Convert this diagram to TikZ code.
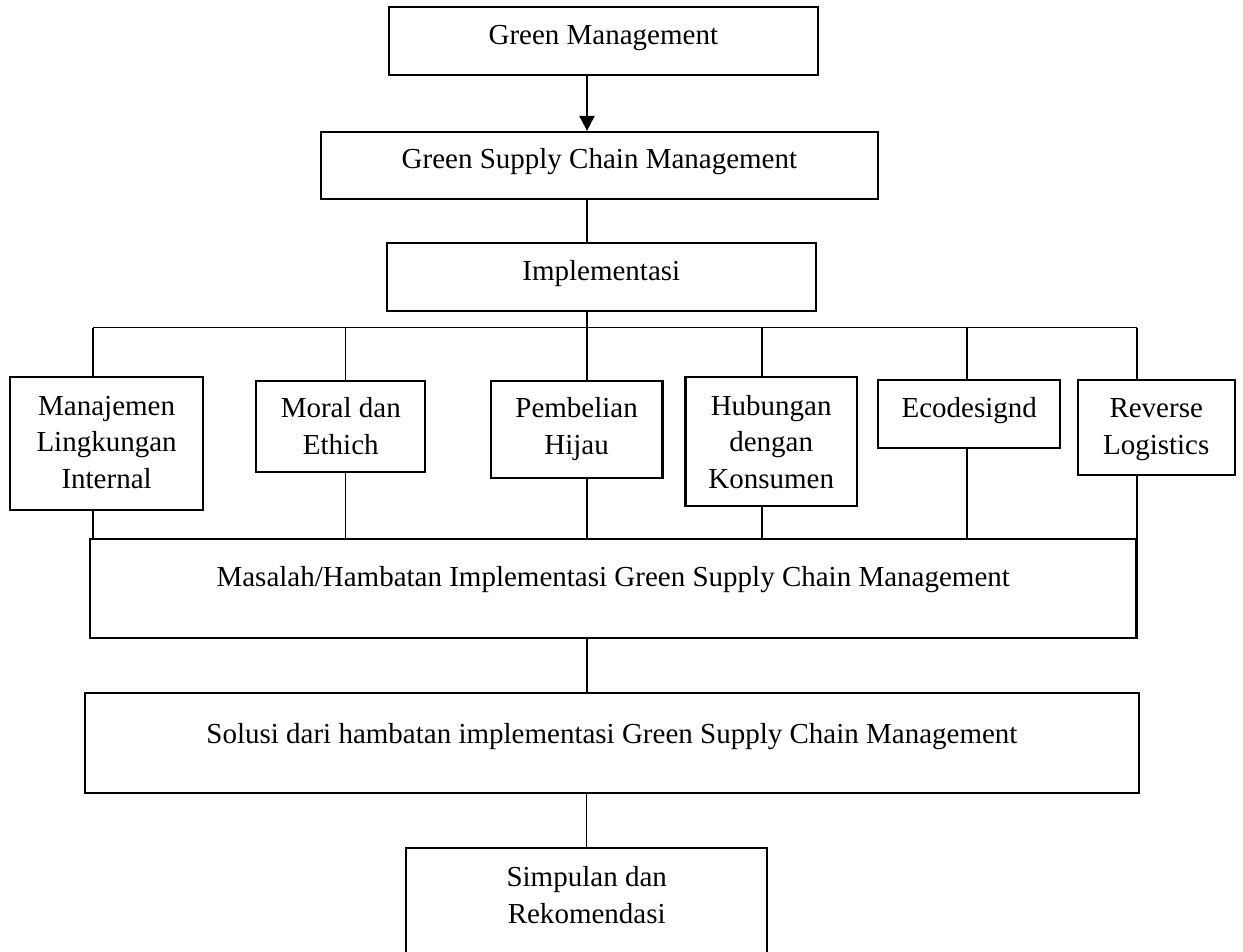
\documentclass[tikz,border=0pt]{standalone}
\usepackage{fontspec}
\setmainfont{Liberation Serif}
\usetikzlibrary{arrows.meta,calc}
\newlength\pxu
\setlength\pxu{0.4pt}
% box text: [top pad]{width}{height}{text}, sizes in px
\newcommand{\bx}[4][4.7pt]{\parbox[c][#3\pxu][t]{#2\pxu}{\centering\vspace*{#1}\strut #4}}

\begin{document}
\begin{tikzpicture}[
  x=0.4pt, y=-0.4pt,
  box/.style={rectangle, draw, line width=0.9pt, inner sep=0pt, font=\fontsize{11.6}{14.6}\selectfont},
  line/.style={line width=0.45pt},
  arr/.style={-{Triangle[length=6pt, width=6pt]}, line width=0.8pt},
]
  \useasboundingbox (0,0) rectangle (1243,951);
  \coordinate (ax) at (587,0);

  % main column
  \node[box] (gm) at (603.3,40.9) {\bx[4.8pt]{429.3}{68.3}{Green Management}};
  \node[box] (gscm) at (599.4,165.5) {\bx[4.3pt]{557.3}{67}{Green Supply Chain Management}};
  \node[box] (impl) at (601.3,276.9) {\bx[4.6pt]{429}{67.7}{Implementasi}};

  % implementation areas
  \node[box] (man) at (106.6,443.5) {\bx[5pt]{192.7}{133}{Manajemen\\Lingkungan\\Internal}};
  \node[box] (moral) at (340.8,426.5) {\bx[4.5pt]{169}{91}{Moral dan\\Ethich}};
  \node[box] (beli) at (576.6,429.5) {\bx[4.5pt]{171.9}{97}{Pembelian\\Hijau}};
  \node[box] (hub) at (771.2,441.5) {\bx[5pt]{171.2}{129}{Hubungan\\dengan\\Konsumen}};
  \node[box] (eco) at (969.2,414) {\bx[4.9pt]{182}{68}{Ecodesignd}};
  \node[box] (rev) at (1156.2,427.5) {\bx[4.9pt]{156.9}{95}{Reverse\\Logistics}};

  % problems, solutions, conclusion
  \node[box] (mas) at (613.2,588.5) {\bx[8.9pt]{1046.7}{99}{Masalah/Hambatan Implementasi Green Supply Chain Management}};
  \node[box] (sol) at (611.9,743) {\bx[10pt]{1054.3}{100.6}{Solusi dari hambatan implementasi Green Supply Chain Management}};
  \node[box] (simp) at (586.7,901.7) {\bx[5.1pt]{361.3}{106.7}{Simpulan dan\\Rekomendasi}};

  \draw[arr] (gm.south -| ax) -- (gscm.north -| ax);
  \draw[line] (gscm.south -| ax) -- (impl.north -| ax);

  \foreach \n/\px in {man/93, moral/345.5, beli/587, hub/762, eco/967, rev/1137}{
    \coordinate (\n-x) at (\px,327.7);
    \draw[line] (\n-x) -- (\n-x |- \n.north);
    \draw[line] (\n-x |- \n.south) -- (\n-x |- mas.north);
  }
  \draw[line] (man-x) -- (rev-x);
  \draw[line] (impl.south -| beli-x) -- (beli-x);

  \draw[line] (mas.south -| ax) -- (sol.north -| ax);
  \draw[line] (sol.south -| simp.north) -- (simp.north);
\end{tikzpicture}
\end{document}
